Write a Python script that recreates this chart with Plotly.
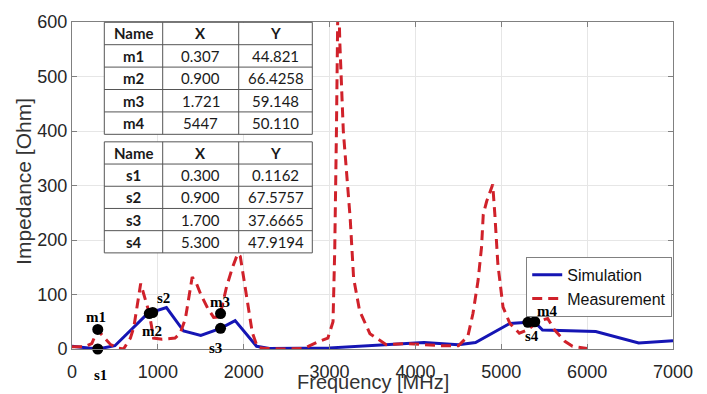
import plotly.graph_objects as go

# ---------------- data ----------------
sim_freq = [0, 300, 500, 880, 1100, 1300, 1500, 1730, 1900, 2150, 2300, 3000,
            4100, 4500, 4700, 5100, 5310, 5400, 5480, 6100, 6600, 7000]
sim_val = [5, 0, 6, 65, 76, 33, 25, 38, 52, 5, 1, 2,
           12, 8, 12, 47, 49, 48, 35, 32, 11, 15]

meas_freq = [0, 150, 230, 300, 380, 450, 530, 600, 680, 720, 800, 850, 900, 950,
             1050, 1200, 1260, 1320, 1400, 1450, 1500, 1580, 1650, 1720, 1800,
             1870, 1930, 1960, 2000, 2050, 2100, 2160, 2250, 2500, 2700, 2850,
             2980, 3040, 3060, 3080, 3100, 3120, 3160, 3200, 3240, 3280, 3350,
             3470, 3660, 3900, 4300, 4500, 4610, 4670, 4730, 4770, 4790, 4830,
             4900, 4925, 4960, 5020, 5100, 5210, 5300, 5450, 5540, 5620, 5740,
             5830, 6000]
meas_val = [4, 4, 10, 35, 20, 8, 2, 0, 20, 40, 120, 95, 66, 20,
            18, 20, 29, 55, 132, 120, 100, 75, 58, 59, 114,
            150, 175, 170, 130, 80, 30, 3, 1, 0, 1, 12,
            20, 50, 180, 400, 680, 560, 400, 320, 240, 130, 70,
            28, 8, 10, 6, 6, 23, 65, 126, 187, 247, 271,
            302, 247, 156, 77, 47, 29, 35, 52, 56, 35, 14,
            5, 1]

mk_names = ["m1", "s1", "m2", "s2", "m3", "s3", "m4", "s4"]
mk_x = [300, 300, 900, 940, 1730, 1730, 5390, 5310]
mk_y = [36, 0, 65, 67, 65, 38, 50, 49]
# label offsets in pixels (dx right, dy down)
mk_dx = [-2, 3, 3, 11, -1, -5, 12, 4]
mk_dy = [-12, 26, 17, -14, -12, 20, -11, 14]

tab_header = ["Name", "X", "Y"]
tab_m_name = ["m1", "m2", "m3", "m4"]
tab_m_x = ["0.307", "0.900", "1.721", "5447"]
tab_m_y = ["44.821", "66.4258", "59.148", "50.110"]
tab_s_name = ["s1", "s2", "s3", "s4"]
tab_s_x = ["0.300", "0.900", "1.700", "5.300"]
tab_s_y = ["0.1162", "67.5757", "37.6665", "47.9194"]

x_ticks = [0, 1000, 2000, 3000, 4000, 5000, 6000, 7000]
y_ticks = [0, 100, 200, 300, 400, 500, 600]

# ---------------- layout geometry (pixels) ----------------
W, H = 707, 394
ML, MR, MT, MB = 72, 34, 18, 45
PW, PH = W - ML - MR, H - MT - MB

def px(x):
    return (x - ML) / PW

def py(y):
    return (H - MB - y) / PH

SANS = "Liberation Sans, Arial, sans-serif"
SERIF = "Liberation Serif, Times New Roman, serif"
TFONT = "Lato, Carlito, Calibri, sans-serif"

fig = go.Figure()
fig.add_trace(go.Scatter(x=sim_freq, y=sim_val, mode="lines", name="Simulation",
                         line=dict(color="#1515b4", width=3)))
fig.add_trace(go.Scatter(x=meas_freq, y=meas_val, mode="lines", name="Measurement",
                         line=dict(color="#d0212a", width=3, dash="10px,6px")))
fig.add_trace(go.Scatter(x=mk_x, y=mk_y, mode="markers", showlegend=False,
                         cliponaxis=False,
                         marker=dict(color="black", size=11)))

for n, x, y, dx, dy in zip(mk_names, mk_x, mk_y, mk_dx, mk_dy):
    fig.add_annotation(x=x, y=y, xref="x", yref="y", text="<b>%s</b>" % n,
                       showarrow=False, xshift=dx, yshift=-dy,
                       font=dict(family=SERIF, size=15, color="black"))

# ---------------- tables (shapes + text) ----------------
col_edges = [104.3, 162.7, 238.7, 312.3]
shapes = []
for names, xs, ys, top, rowh in [(tab_m_name, tab_m_x, tab_m_y, 18.3, 22.68),
                                 (tab_s_name, tab_s_x, tab_s_y, 139.3, 22.48)]:
    nrows = len(names) + 1
    bottom = top + nrows * rowh
    shapes.append(dict(type="rect", xref="paper", yref="paper",
                       x0=px(col_edges[0]), x1=px(col_edges[-1]),
                       y0=py(bottom), y1=py(top), fillcolor="white",
                       line=dict(color="#555555", width=1), layer="above"))
    for ce in col_edges[1:-1]:
        shapes.append(dict(type="line", xref="paper", yref="paper",
                           x0=px(ce), x1=px(ce), y0=py(bottom), y1=py(top),
                           line=dict(color="#555555", width=1), layer="above"))
    for r in range(1, nrows):
        yy = top + r * rowh
        shapes.append(dict(type="line", xref="paper", yref="paper",
                           x0=px(col_edges[0]), x1=px(col_edges[-1]),
                           y0=py(yy), y1=py(yy),
                           line=dict(color="#555555", width=1), layer="above"))
    rows = [["<b>%s</b>" % h for h in tab_header]] + \
           [["<b>%s</b>" % n, a, b] for n, a, b in zip(names, xs, ys)]
    for r, row in enumerate(rows):
        yc = top + (r + 0.5) * rowh
        for c, txt in enumerate(row):
            xc = (col_edges[c] + col_edges[c + 1]) / 2
            fig.add_annotation(text=txt, x=px(xc), y=py(yc), xref="paper", yref="paper",
                               showarrow=False, xanchor="center", yanchor="middle",
                               font=dict(family=TFONT, size=15, color="#1a1a1a"))

fig.add_annotation(text="Frequency [MHz]", x=0.5, y=-0.102, xref="paper", yref="paper",
                   showarrow=False, yanchor="middle",
                   font=dict(family=SANS, size=20, color="#333333"))
fig.add_annotation(text="Impedance [Ohm]", x=-0.081, y=0.512, xref="paper", yref="paper",
                   showarrow=False, textangle=-90, xanchor="center", yanchor="middle",
                   font=dict(family=SANS, size=21, color="#333333"))

axis_common = dict(showgrid=True, gridcolor="#e6e6e6", gridwidth=1,
                   showline=True, linecolor="#808080", linewidth=1, mirror="ticks",
                   ticks="inside", ticklen=5, tickcolor="#808080", zeroline=False,
                   tickfont=dict(family=SANS, size=18, color="#262626"))
fig.update_layout(
    width=W, height=H, autosize=False,
    margin=dict(l=ML, r=MR, t=MT, b=MB),
    paper_bgcolor="white", plot_bgcolor="white",
    xaxis=dict(range=[0, 7000], tickvals=x_ticks, ticklabelstandoff=6, **axis_common),
    yaxis=dict(range=[0, 600], tickvals=y_ticks, **axis_common),
    legend=dict(x=0.9987, xanchor="right", y=0.282, yanchor="top",
                bgcolor="white", bordercolor="#808080", borderwidth=1,
                font=dict(family=SANS, size=16, color="#111111"),
                itemwidth=30, tracegroupgap=0),
    shapes=shapes,
    showlegend=True,
)

fig.write_html("out.html")
